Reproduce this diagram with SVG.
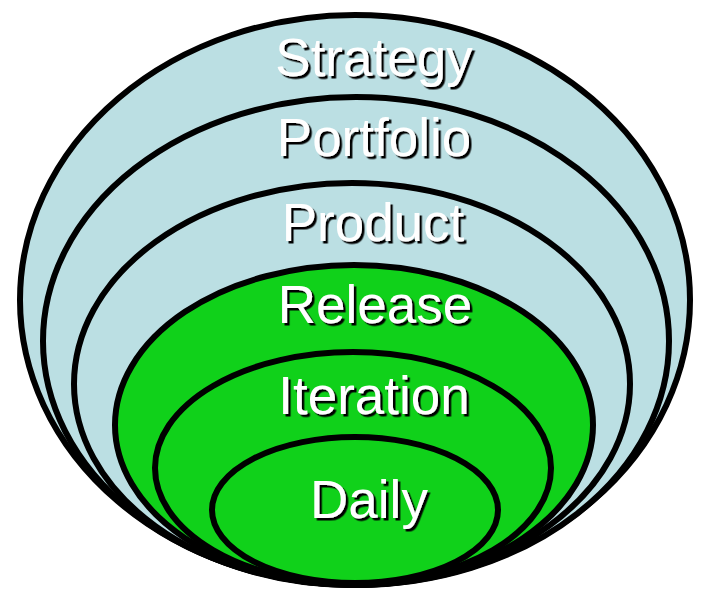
<svg xmlns="http://www.w3.org/2000/svg" width="701" height="591" viewBox="0 0 701 591">
  <defs>
    <filter id="sh" x="-10%" y="-20%" width="130%" height="150%">
      <feDropShadow dx="2.5" dy="2.5" stdDeviation="0.4" flood-color="#000" flood-opacity="1"/>
    </filter>
  </defs>
  <style>
    .ring { stroke: #000; stroke-width: 6; }
    .blue { fill: #BBDFE3; }
    .green { fill: #10D11A; }
    .lbl { font-family: "Liberation Sans", Arial, sans-serif; font-size: 53px; fill: #fff; text-anchor: middle; filter: url(#sh); }
  </style>
  <g id="strategy">
    <ellipse class="ring blue" cx="355" cy="300" rx="335" ry="285"/>
    <text class="lbl" x="374" y="76">Strategy</text>
  </g>
  <g id="portfolio">
    <ellipse class="ring blue" cx="356" cy="341" rx="313" ry="244"/>
    <text class="lbl" x="374" y="156">Portfolio</text>
  </g>
  <g id="product">
    <ellipse class="ring blue" cx="352" cy="384" rx="278" ry="201"/>
    <text class="lbl" x="373" y="241">Product</text>
  </g>
  <g id="release">
    <ellipse class="ring green" cx="354" cy="425" rx="239" ry="160"/>
    <text class="lbl" x="375" y="323">Release</text>
  </g>
  <g id="iteration">
    <ellipse class="ring green" cx="353" cy="468" rx="198" ry="116"/>
    <text class="lbl" x="374" y="414">Iteration</text>
  </g>
  <g id="daily">
    <ellipse class="ring green" cx="355" cy="510" rx="143" ry="73"/>
    <text class="lbl" x="369" y="518">Daily</text>
  </g>
  <g id="connectors"/>
</svg>
